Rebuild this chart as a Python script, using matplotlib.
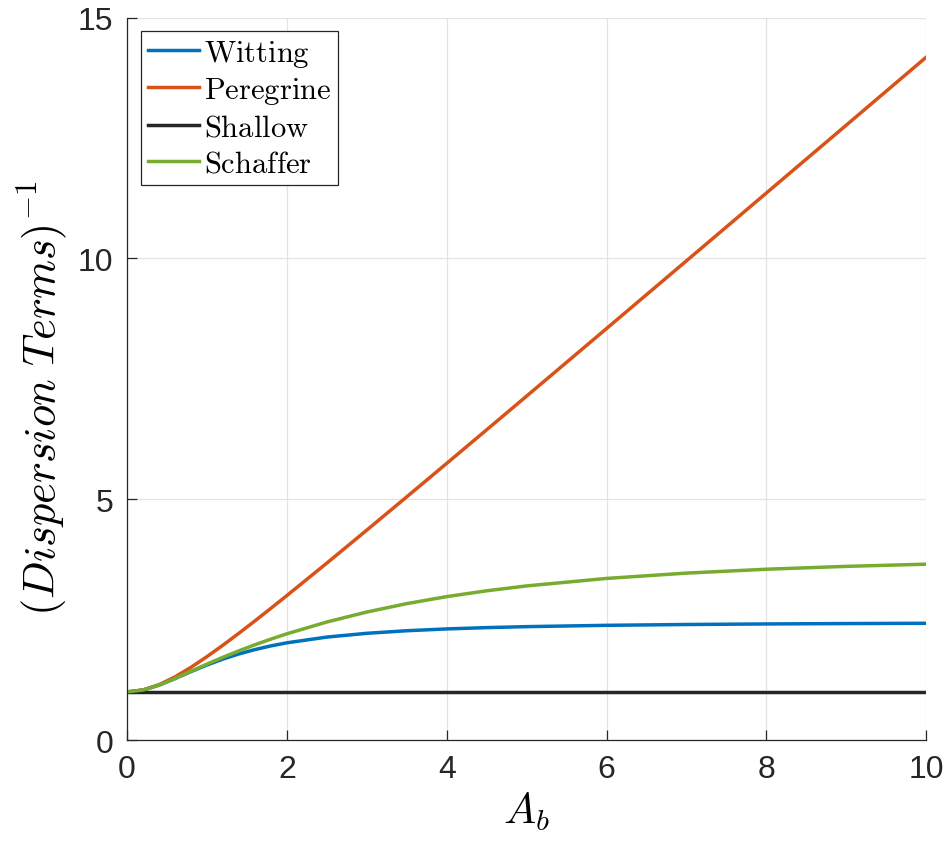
import matplotlib
matplotlib.use("Agg")
import matplotlib.pyplot as plt

plt.rcParams['mathtext.fontset'] = 'cm'
plt.rcParams['font.family'] = ['Liberation Sans', 'DejaVu Sans']

# inverse dispersion terms vs A_b
A_b = [0, 0.2, 0.4, 0.6, 0.8, 1.0, 1.2, 1.4, 1.6, 1.8, 2.0, 2.5, 3.0, 3.5,
       4.0, 4.5, 5.0, 6.0, 7.0, 8.0, 9.0, 10.0]
witting = [1.0, 1.0386, 1.1405, 1.2765, 1.4210, 1.5584, 1.6815, 1.7881, 1.8787,
           1.9551, 2.0191, 2.1381, 2.2165, 2.2699, 2.3075, 2.3346, 2.3549,
           2.3823, 2.3994, 2.4108, 2.4187, 2.4245]
peregrine = [1.0, 1.0392, 1.1489, 1.3115, 1.5100, 1.7321, 1.9698, 2.2181, 2.4739,
             2.7350, 3.0, 3.6742, 4.3589, 5.0498, 5.7446, 6.4420, 7.1414,
             8.5440, 9.9499, 11.3578, 12.7671, 14.1774]
shallow = [1.0] * len(A_b)
schaffer = [1.0, 1.0386, 1.1407, 1.2782, 1.4279, 1.5767, 1.7190, 1.8529, 1.9784,
            2.0959, 2.2060, 2.4513, 2.6586, 2.8326, 2.9780, 3.0992, 3.2004,
            3.3559, 3.4665, 3.5468, 3.6064, 3.6516]

series = [("Witting", witting, "#0072BD"),
          ("Peregrine", peregrine, "#D95319"),
          ("Shallow", shallow, "#262626"),
          ("Schaffer", schaffer, "#77AC30")]

fig = plt.figure(figsize=(9.48, 8.45), dpi=100)
ax = fig.add_axes([0.134, 0.123, 0.843, 0.855])

for name, vals, col in series:
    ax.plot(A_b, vals, color=col, lw=2.5, label=r'$\mathrm{%s}$' % name)

ax.set_xlim(0, 10)
ax.set_ylim(0, 15)
ax.set_xticks([0, 2, 4, 6, 8, 10])
ax.set_yticks([0, 5, 10, 15])
ax.grid(True, color='#e3e3e3', lw=0.9)
ax.set_axisbelow(True)
for side in ['top', 'right']:
    ax.spines[side].set_visible(False)
for side in ['left', 'bottom']:
    ax.spines[side].set_color('#262626')
    ax.spines[side].set_linewidth(0.9)
ax.tick_params(direction='in', length=7, width=0.9, colors='#262626',
               labelsize=23, pad=10)

ax.set_xlabel(r'$A_b$', fontsize=31, labelpad=4)
ax.set_ylabel(r'$(Dispersion\ Terms)^{-1}$', fontsize=32)
ax.yaxis.set_label_coords(-0.072, 0.475)

leg = ax.legend(loc='upper left', fontsize=22, frameon=True, fancybox=False,
                framealpha=1, edgecolor='#262626', handlelength=1.69,
                borderpad=0.22, labelspacing=0.2, handletextpad=0.15,
                borderaxespad=0.45)
leg.get_frame().set_linewidth(0.9)

fig.savefig("out.png", dpi=100)
